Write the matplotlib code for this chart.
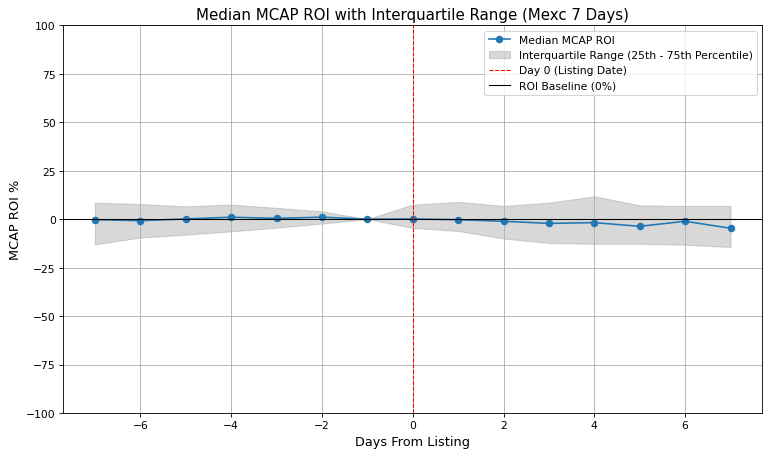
import numpy as np
import matplotlib.pyplot as plt

days = np.arange(-7, 8)
median_roi = [-0.3, -0.8, 0.1, 1.0, 0.4, 1.0, 0.0, 0.1, -0.3, -1.1, -2.2, -1.8, -3.7, -1.1, -4.7]
q25 = [-13.0, -9.5, -8.0, -6.3, -4.4, -2.3, 0.0, -4.5, -6.1, -10.0, -12.3, -12.7, -12.7, -13.2, -14.4]
q75 = [8.5, 7.8, 6.6, 7.5, 5.8, 4.0, 0.0, 7.5, 8.9, 6.8, 8.5, 11.8, 7.1, 6.8, 6.8]

fig, ax = plt.subplots(figsize=(10, 5.96), dpi=77)
fig.subplots_adjust(left=0.082, right=0.99, top=0.943, bottom=0.098)

ax.plot(days, median_roi, marker='o', label='Median MCAP ROI')
ax.fill_between(days, q25, q75, color='gray', alpha=0.3, label='Interquartile Range (25th - 75th Percentile)')
ax.axvline(0, color='red', linestyle='--', linewidth=1, zorder=3, label='Day 0 (Listing Date)')
ax.axhline(0, color='black', linewidth=1, label='ROI Baseline (0%)')

ax.set_ylim(-100, 100)
ax.set_title('Median MCAP ROI with Interquartile Range (Mexc 7 Days)', fontsize=14)
ax.set_xlabel('Days From Listing', fontsize=12)
ax.set_ylabel('MCAP ROI %', fontsize=12)
ax.grid(True)
ax.legend(loc='upper right')

plt.savefig('out.png', dpi=77)
